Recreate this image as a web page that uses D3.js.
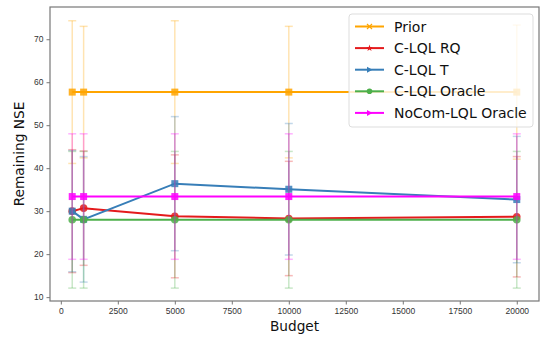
<!DOCTYPE html>
<html>
<head>
<meta charset="utf-8">
<script src="https://cdn.jsdelivr.net/npm/d3@7"></script>
<style>
  body { margin: 0; background: #fff; }
  svg { font-family: "DejaVu Sans", sans-serif; }
</style>
</head>
<body>
<div id="chart"></div>
<script>
// budgets on the x axis
const budgets = [500, 1000, 5000, 10000, 20000];

// series means and error bar half widths
const priorMean = [57.7, 57.7, 57.7, 57.7, 57.7];
const priorErr = [16.6, 15.3, 16.6, 15.3, 15.6];
const rqMean = [30.0, 30.7, 28.8, 28.3, 28.7];
const rqErr = [14.3, 13.3, 14.3, 13.3, 14.0];
const tMean = [30.0, 28.1, 36.4, 35.1, 32.7];
const tErr = [14.1, 14.6, 15.6, 15.3, 14.7];
const oracleMean = [28.0, 28.0, 28.0, 28.0, 28.0];
const oracleErr = [15.9, 15.9, 15.9, 15.9, 15.9];
const nocomMean = [33.4, 33.4, 33.4, 33.4, 33.4];
const nocomErr = [14.6, 14.6, 14.6, 14.6, 14.6];

const seriesNames = ["Prior", "C-LQL RQ", "C-LQL T", "C-LQL Oracle", "NoCom-LQL Oracle"];
const xTicks = [0, 2500, 5000, 7500, 10000, 12500, 15000, 17500, 20000];
const yTicks = [10, 20, 30, 40, 50, 60, 70];

const series = [
  {name: seriesNames[0], mean: priorMean, err: priorErr, color: "#ffa500", marker: "square", legendMarker: "x"},
  {name: seriesNames[1], mean: rqMean, err: rqErr, color: "#e41a1c", marker: "circle", legendMarker: "star"},
  {name: seriesNames[2], mean: tMean, err: tErr, color: "#377eb8", marker: "square", legendMarker: "tri"},
  {name: seriesNames[3], mean: oracleMean, err: oracleErr, color: "#4daf4a", marker: "circle", legendMarker: "circle"},
  {name: seriesNames[4], mean: nocomMean, err: nocomErr, color: "#ff00ff", marker: "square", legendMarker: "tri"}
];

const width = 540, height = 337;
const margin = {top: 7, right: 1, bottom: 36, left: 50};
const w = width - margin.left - margin.right;
const h = height - margin.top - margin.bottom;

const svg = d3.select("#chart").append("svg")
  .attr("width", width)
  .attr("height", height);

const g = svg.append("g")
  .attr("transform", `translate(${margin.left},${margin.top})`);

const x = d3.scaleLinear().domain([-475, 20975]).range([0, w]);
const y = d3.scaleLinear().domain([9.1, 77.5]).range([h, 0]);

// axes
const xAxis = d3.axisBottom(x).tickValues(xTicks).tickFormat(d3.format("d"))
  .tickSize(3.5).tickSizeOuter(0).tickPadding(3);
const yAxis = d3.axisLeft(y).tickValues(yTicks).tickFormat(d3.format("d"))
  .tickSize(3.5).tickSizeOuter(0).tickPadding(3);

g.append("g").attr("transform", `translate(0,${h})`).call(xAxis)
  .call(s => s.selectAll("text").attr("font-size", 8.5).attr("fill", "#333"))
  .call(s => s.selectAll("line").attr("stroke", "#777"))
  .call(s => s.select(".domain").remove());
g.append("g").call(yAxis)
  .call(s => s.selectAll("text").attr("font-size", 8.5).attr("fill", "#333"))
  .call(s => s.selectAll("line").attr("stroke", "#777"))
  .call(s => s.select(".domain").remove());

// spines
g.append("rect")
  .attr("x", 0).attr("y", 0).attr("width", w).attr("height", h)
  .attr("fill", "none").attr("stroke", "#777").attr("stroke-width", 1.2);

const line = d3.line().x(d => x(d.b)).y(d => y(d.m));

series.forEach(s => {
  const pts = budgets.map((b, i) => ({b: b, m: s.mean[i], e: s.err[i]}));
  const sg = g.append("g");

  // error bars
  const eb = sg.selectAll(".eb").data(pts).enter().append("g")
    .attr("stroke", s.color).attr("stroke-opacity", 0.3).attr("stroke-width", 1.5);
  eb.append("line")
    .attr("x1", d => x(d.b)).attr("x2", d => x(d.b))
    .attr("y1", d => y(d.m - d.e)).attr("y2", d => y(d.m + d.e));
  eb.append("line")
    .attr("x1", d => x(d.b) - 4).attr("x2", d => x(d.b) + 4)
    .attr("y1", d => y(d.m + d.e)).attr("y2", d => y(d.m + d.e));
  eb.append("line")
    .attr("x1", d => x(d.b) - 4).attr("x2", d => x(d.b) + 4)
    .attr("y1", d => y(d.m - d.e)).attr("y2", d => y(d.m - d.e));

  sg.append("path").datum(pts)
    .attr("d", line).attr("fill", "none")
    .attr("stroke", s.color).attr("stroke-width", 2);

  if (s.marker === "square") {
    sg.selectAll(".mk").data(pts).enter().append("rect")
      .attr("x", d => x(d.b) - 3.5).attr("y", d => y(d.m) - 3.5)
      .attr("width", 7).attr("height", 7)
      .attr("fill", s.color).attr("fill-opacity", 0.85);
  } else {
    sg.selectAll(".mk").data(pts).enter().append("circle")
      .attr("cx", d => x(d.b)).attr("cy", d => y(d.m)).attr("r", 3.8)
      .attr("fill", s.color).attr("fill-opacity", 0.85);
  }
});

// axis titles
svg.append("text")
  .attr("x", margin.left + w / 2).attr("y", 331)
  .attr("text-anchor", "middle").attr("font-size", 13.7).attr("fill", "#111")
  .text("Budget");
svg.append("text")
  .attr("transform", `translate(24,${margin.top + h / 2}) rotate(-90)`)
  .attr("text-anchor", "middle").attr("font-size", 13.7).attr("fill", "#111")
  .text("Remaining NSE");

// legend
const lg = svg.append("g").attr("transform", "translate(349,14)");
lg.append("rect")
  .attr("width", 184).attr("height", 113).attr("rx", 3)
  .attr("fill", "#fff").attr("fill-opacity", 0.8)
  .attr("stroke", "#ddd");

series.forEach((s, i) => {
  const yy = 12.5 + i * 21.6;
  const it = lg.append("g").attr("transform", `translate(0,${yy})`);
  it.append("line").attr("x1", 6).attr("x2", 35).attr("y1", 0).attr("y2", 0)
    .attr("stroke", s.color).attr("stroke-width", 2);
  const cx = 20.5;
  if (s.legendMarker === "x") {
    it.append("path").attr("d", `M${cx - 2.5},-2.5L${cx + 2.5},2.5M${cx - 2.5},2.5L${cx + 2.5},-2.5`)
      .attr("stroke", s.color).attr("stroke-width", 1.2);
  } else if (s.legendMarker === "star") {
    it.append("path").attr("d", d3.symbol(d3.symbolStar, 14)()).attr("transform", `translate(${cx},0)`)
      .attr("fill", s.color);
  } else if (s.legendMarker === "tri") {
    it.append("path").attr("d", `M${cx - 2.5},-3L${cx + 3},0L${cx - 2.5},3Z`).attr("fill", s.color);
  } else {
    it.append("circle").attr("cx", cx).attr("cy", 0).attr("r", 2.8).attr("fill", s.color);
  }
  it.append("text").attr("x", 45).attr("y", 5)
    .attr("font-size", 14).attr("fill", "#111").text(s.name);
});
</script>
</body>
</html>
